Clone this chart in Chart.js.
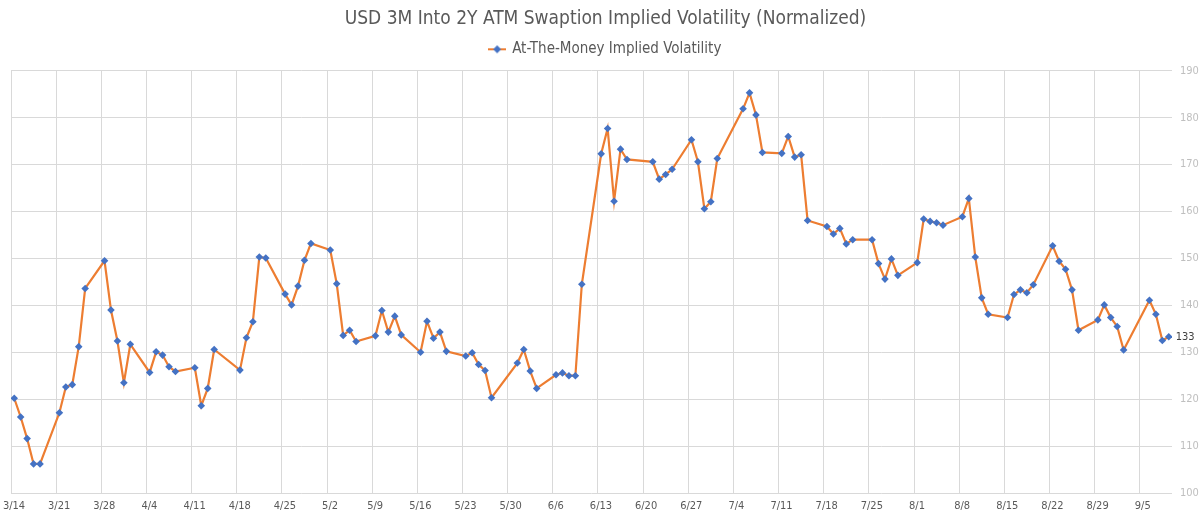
<!DOCTYPE html>
<html>
<head>
<meta charset="utf-8">
<script src="https://cdn.jsdelivr.net/npm/chart.js@4/dist/chart.umd.min.js"></script>
<style>
  html, body { margin: 0; padding: 0; background: #fff; }
  #wrap { width: 1200px; height: 517px; }
</style>
</head>
<body>
<div id="wrap"><canvas id="volChart"></canvas></div>
<script>
const FONT = "'Liberation Sans Narrow', 'DejaVu Sans Condensed', 'Roboto', sans-serif";

// trading days (2022) and normalized ATM vol
const dates = [
    "3/14","3/15","3/16","3/17","3/18","3/21","3/22","3/23","3/24","3/25",
    "3/28","3/29","3/30","3/31","4/1","4/4","4/5","4/6","4/7","4/8",
    "4/11","4/12","4/13","4/14","4/18","4/19","4/20","4/21","4/22",
    "4/25","4/26","4/27","4/28","4/29","5/2","5/3","5/4","5/5","5/6",
    "5/9","5/10","5/11","5/12","5/13","5/16","5/17","5/18","5/19","5/20",
    "5/23","5/24","5/25","5/26","5/27","5/31","6/1","6/2","6/3",
    "6/6","6/7","6/8","6/9","6/10","6/13","6/14","6/15","6/16","6/17",
    "6/21","6/22","6/23","6/24","6/27","6/28","6/29","6/30","7/1",
    "7/5","7/6","7/7","7/8","7/11","7/12","7/13","7/14","7/15",
    "7/18","7/19","7/20","7/21","7/22","7/25","7/26","7/27","7/28","7/29",
    "8/1","8/2","8/3","8/4","8/5","8/8","8/9","8/10","8/11","8/12",
    "8/15","8/16","8/17","8/18","8/19","8/22","8/23","8/24","8/25","8/26",
    "8/29","8/30","8/31","9/1","9/2","9/6","9/7","9/8","9/9"
];
const atmVol = [
    120.2,116.2,111.6,106.2,106.2,117.1,122.6,123.1,131.2,143.6,
    149.5,139.0,132.4,123.5,131.7,125.7,130.1,129.4,126.9,125.9,
    126.7,118.6,122.3,130.6,126.2,133.1,136.5,150.3,150.1,
    142.4,140.1,144.1,149.6,153.2,151.8,144.6,133.6,134.7,132.3,
    133.5,138.9,134.3,137.7,133.7,130.0,136.6,133.0,134.3,130.2,
    129.2,129.9,127.4,126.1,120.3,127.7,130.6,126.0,122.3,
    125.2,125.6,125.0,125.0,144.5,172.3,177.7,162.2,173.3,171.1,
    170.6,166.9,167.9,169.0,175.3,170.6,160.6,162.1,171.3,
    181.9,185.3,180.6,172.6,172.4,176.0,171.6,172.1,158.1,
    156.8,155.2,156.4,153.1,154.0,154.0,148.9,145.6,149.9,146.4,
    149.1,158.4,157.9,157.6,157.1,158.9,162.8,150.3,141.6,138.1,
    137.4,142.3,143.3,142.7,144.4,152.7,149.4,147.7,143.3,134.7,
    136.9,140.1,137.4,135.5,130.5,141.1,138.1,132.5,133.3
];
const weekLabels = [
    "3/14","3/21","3/28","4/4","4/11","4/18","4/25","5/2","5/9","5/16",
    "5/23","5/30","6/6","6/13","6/20","6/27","7/4","7/11","7/18","7/25",
    "8/1","8/8","8/15","8/22","8/29","9/5"
];
const yTicks = [100, 110, 120, 130, 140, 150, 160, 170, 180, 190];

const startDay = new Date(2022, 2, 14);
function dayIndex(str) {
    const [m, d] = str.split("/").map(Number);
    return Math.round((new Date(2022, m - 1, d) - startDay) / 86400000);
}

// each point sits in the middle of its day
const points = dates.map((d, i) => ({ x: dayIndex(d) + 0.5, y: atmVol[i] }));
const lastDay = dayIndex("9/9") + 1;

// legend swatch: orange line with blue diamond
function legendSwatch() {
    const c = document.createElement("canvas");
    c.width = 18; c.height = 10;
    const g = c.getContext("2d");
    g.strokeStyle = "#ED7D31";
    g.lineWidth = 2;
    g.beginPath(); g.moveTo(0, 5); g.lineTo(18, 5); g.stroke();
    g.fillStyle = "#4472C4";
    g.beginPath(); g.moveTo(9, 1); g.lineTo(13, 5); g.lineTo(9, 9); g.lineTo(5, 5); g.closePath(); g.fill();
    return c;
}

const lastValueLabel = {
    id: "lastValueLabel",
    afterDatasetsDraw(chart) {
        const meta = chart.getDatasetMeta(0);
        const pt = meta.data[meta.data.length - 1];
        const ctx = chart.ctx;
        ctx.save();
        ctx.font = "11px " + FONT;
        ctx.fillStyle = "#404040";
        ctx.textAlign = "left";
        ctx.textBaseline = "middle";
        ctx.fillText(Math.round(atmVol[atmVol.length - 1]).toString(), pt.x + 7, pt.y);
        ctx.restore();
    }
};

const ctx = document.getElementById("volChart").getContext("2d");

const volChart = new Chart(ctx, {
    type: "line",
    data: {
        datasets: [{
            label: "At-The-Money Implied Volatility",
            data: points,
            borderColor: "#ED7D31",
            borderWidth: 2.2,
            backgroundColor: "#4472C4",
            pointStyle: "rectRot",
            pointRadius: 3.8,
            pointBackgroundColor: "#4472C4",
            pointBorderColor: "#4472C4",
            pointBorderWidth: 0,
            tension: 0
        }]
    },
    options: {
        responsive: true,
        maintainAspectRatio: false,
        animation: false,
        layout: { padding: { left: 11, right: 0, top: 6, bottom: 0 } },
        plugins: {
            title: {
                display: true,
                text: "USD 3M Into 2Y ATM Swaption Implied Volatility (Normalized)",
                color: "#595959",
                font: { family: FONT, size: 19, weight: "normal" },
                padding: { top: 2, bottom: 1 }
            },
            // empty spacer between legend and plot
            subtitle: {
                display: true,
                text: "",
                weight: 500,
                font: { size: 1, lineHeight: 1 },
                padding: { top: 0, bottom: 3 }
            },
            legend: {
                display: true,
                labels: {
                    color: "#595959",
                    font: { family: FONT, size: 15 },
                    usePointStyle: true,
                    padding: 10,
                    generateLabels: (chart) => [{
                        text: chart.data.datasets[0].label,
                        pointStyle: legendSwatch(),
                        fontColor: "#595959",
                        datasetIndex: 0
                    }]
                }
            },
            tooltip: { enabled: false }
        },
        scales: {
            x: {
                type: "linear",
                min: 0,
                max: lastDay,
                afterBuildTicks: (scale) => {
                    scale.ticks = weekLabels.map((_, i) => ({ value: i * 7 }));
                },
                afterFit: (scale) => {
                    scale.paddingLeft = 0;
                    scale.paddingRight = 0;
                    scale.height = 24;
                },
                ticks: {
                    color: "#595959",
                    font: { family: FONT, size: 11 },
                    labelOffset: 3,
                    maxRotation: 0,
                    autoSkip: false,
                    padding: 7,
                    callback: (value) => weekLabels[Math.round(value / 7)]
                },
                grid: { color: "#D9D9D9", drawTicks: false },
                border: { display: false }
            },
            y: {
                position: "right",
                min: 100,
                max: 190,
                afterBuildTicks: (scale) => {
                    scale.ticks = yTicks.map(v => ({ value: v }));
                },
                afterFit: (scale) => { scale.width = 28; },
                ticks: {
                    color: "#BFBFBF",
                    font: { family: FONT, size: 11 },
                    padding: 8
                },
                grid: { color: "#D9D9D9", drawTicks: false },
                border: { display: false }
            }
        }
    },
    plugins: [lastValueLabel]
});
</script>
</body>
</html>
